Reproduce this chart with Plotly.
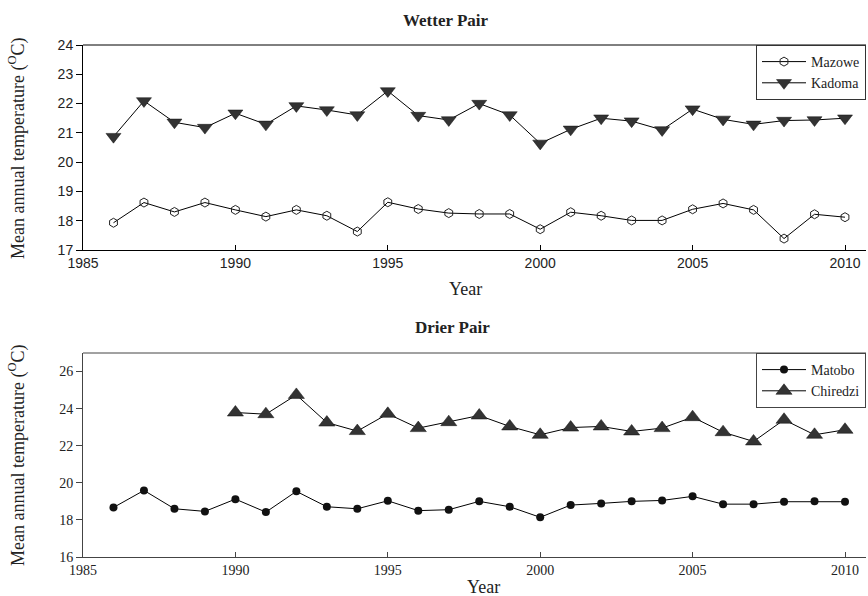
import plotly.graph_objects as go

years = list(range(1986, 2011))
mazowe = [17.93, 18.62, 18.30, 18.62, 18.37, 18.14, 18.37, 18.17, 17.63, 18.63,
          18.40, 18.26, 18.23, 18.23, 17.71, 18.29, 18.17, 18.01, 18.01, 18.39,
          18.59, 18.37, 17.39, 18.22, 18.12]
kadoma = [20.87, 22.09, 21.36, 21.18, 21.67, 21.29, 21.92, 21.78, 21.61, 22.43,
          21.59, 21.44, 22.00, 21.61, 20.64, 21.12, 21.50, 21.40, 21.10, 21.81,
          21.46, 21.29, 21.42, 21.44, 21.50]
matobo = [18.67, 19.59, 18.60, 18.46, 19.12, 18.42, 19.54, 18.71, 18.60, 19.03,
          18.50, 18.55, 19.00, 18.71, 18.14, 18.80, 18.89, 19.00, 19.05, 19.27,
          18.85, 18.85, 18.98, 19.00, 18.98]
chiredzi_years = list(range(1990, 2011))
chiredzi = [23.79, 23.70, 24.74, 23.25, 22.79, 23.72, 22.95, 23.27, 23.63, 23.04,
            22.59, 22.98, 23.04, 22.77, 22.95, 23.54, 22.73, 22.23, 23.40, 22.59,
            22.86]

x_ticks = [1985, 1990, 1995, 2000, 2005, 2010]
top_yticks = [17, 18, 19, 20, 21, 22, 23, 24]
bot_yticks = [16, 18, 20, 22, 24, 26]

W, H = 868, 596
ML, MR, MT, MB = 83, 2, 45, 39
ph = H - MT - MB

def fy(py):
    return (H - MB - py) / ph

serif = "Liberation Serif, Times New Roman, serif"
sans = "Liberation Sans, Arial, sans-serif"

fig = go.Figure()

fig.add_trace(go.Scatter(x=years, y=mazowe, name="Mazowe", mode="lines+markers",
                         line=dict(color="black", width=1),
                         marker=dict(symbol="hexagon-open", size=9, color="#222",
                                     line=dict(width=1)),
                         xaxis="x", yaxis="y", legend="legend"))
fig.add_trace(go.Scatter(x=years, y=kadoma, name="Kadoma", mode="lines+markers",
                         line=dict(color="black", width=1),
                         marker=dict(symbol="triangle-down", size=13, color="#333",
                                     line=dict(width=0.5, color="#111")),
                         xaxis="x", yaxis="y", legend="legend"))
fig.add_trace(go.Scatter(x=years, y=matobo, name="Matobo", mode="lines+markers",
                         line=dict(color="black", width=1),
                         marker=dict(symbol="circle", size=8, color="#111"),
                         xaxis="x2", yaxis="y2", legend="legend2"))
fig.add_trace(go.Scatter(x=chiredzi_years, y=chiredzi, name="Chiredzi", mode="lines+markers",
                         line=dict(color="black", width=1),
                         marker=dict(symbol="triangle-up", size=14, color="#333",
                                     line=dict(width=0.5, color="#111")),
                         xaxis="x2", yaxis="y2", legend="legend2"))

xr = [1985, 1985 + (W - ML - MR) / 30.48]
top_dom = [fy(250), fy(45)]
bot_dom = [fy(557), fy(353)]

axis_common = dict(showgrid=False, zeroline=False, showline=True, linewidth=1)

fig.update_layout(
    width=W, height=H,
    margin=dict(l=ML, r=MR, t=MT, b=MB),
    paper_bgcolor="white", plot_bgcolor="white",
    showlegend=True,
    xaxis=dict(domain=[0, 1], range=xr, tickvals=x_ticks, ticks="inside", ticklen=5,
               linecolor="black", tickcolor="black", anchor="y",
               tickfont=dict(family=sans, size=14, color="#222"), **axis_common),
    yaxis=dict(domain=top_dom, range=[17, 24], tickvals=top_yticks, ticks="outside", ticklen=6,
               linecolor="black", tickcolor="black", anchor="x",
               tickfont=dict(family=sans, size=14, color="#222"), **axis_common),
    xaxis2=dict(domain=[0, 1], range=xr, tickvals=x_ticks, ticks="inside", ticklen=5,
                linecolor="#444", tickcolor="#444", anchor="y2",
                tickfont=dict(family=serif, size=14, color="#222"), **axis_common),
    yaxis2=dict(domain=bot_dom, range=[16, 27], tickvals=bot_yticks, ticks="outside", ticklen=6,
                linecolor="#444", tickcolor="#444", anchor="x2",
                tickfont=dict(family=serif, size=14, color="#222"), **axis_common),
    legend=dict(x=1, xanchor="right", y=1, yanchor="top", xref="paper", yref="paper",
                bordercolor="#333", borderwidth=1, bgcolor="white",
                font=dict(family=serif, size=14, color="#222"),
                tracegroupgap=0, itemwidth=44),
    legend2=dict(x=1, xanchor="right", y=bot_dom[1], yanchor="top", xref="paper", yref="paper",
                 bordercolor="#444", borderwidth=1, bgcolor="white",
                 font=dict(family=serif, size=14, color="#222"),
                 tracegroupgap=0, itemwidth=44),
)

# top frame lines
fig.add_shape(type="line", xref="x domain", yref="y domain", x0=0, x1=1, y0=1, y1=1,
              line=dict(color="black", width=1))
fig.add_shape(type="line", xref="x2 domain", yref="y2 domain", x0=0, x1=1, y0=1, y1=1,
              line=dict(color="#444", width=1))

def px_x(px):
    return (px - ML) / (W - ML - MR)

ylab = "Mean annual temperature (<sup>O</sup>C)"
anns = [
    dict(text="<b>Wetter Pair</b>", x=px_x(446), y=fy(20), font=dict(family=serif, size=17, color="#222")),
    dict(text="<b>Drier Pair</b>", x=px_x(452), y=fy(327), font=dict(family=serif, size=17, color="#222")),
    dict(text="Year", x=px_x(465), y=fy(289), font=dict(family=serif, size=18, color="#222")),
    dict(text="Year", x=px_x(483), y=fy(587), font=dict(family=serif, size=18, color="#222")),
    dict(text=ylab, x=px_x(17), y=fy(148), textangle=-90, font=dict(family=serif, size=18, color="#222")),
    dict(text=ylab, x=px_x(17), y=fy(455), textangle=-90, font=dict(family=serif, size=18, color="#222")),
]
for a in anns:
    fig.add_annotation(xref="paper", yref="paper", showarrow=False,
                       xanchor="center", yanchor="middle", **a)

fig.write_html("out.html", config={"displayModeBar": False},
               post_script="document.body.style.margin='0';document.body.style.overflow='hidden';")
